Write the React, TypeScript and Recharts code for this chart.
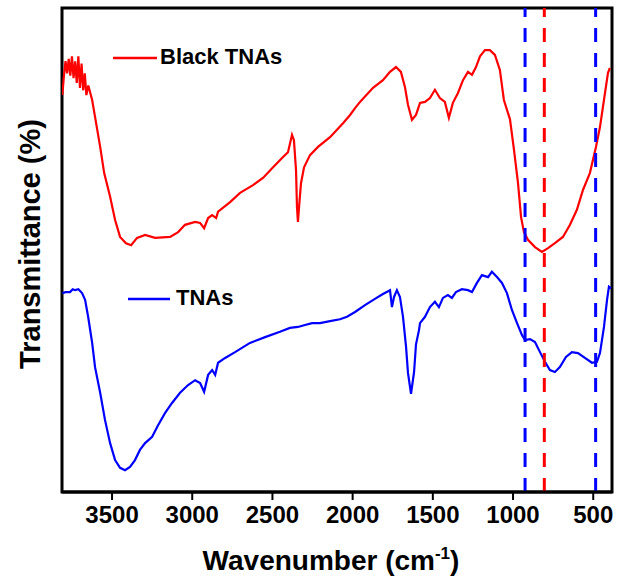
import { LineChart, Line, XAxis, YAxis, ReferenceLine, ReferenceArea } from "recharts";

const FONT = "'Liberation Sans', Arial, sans-serif";

// Black TNAs spectrum (wavenumber, transmittance in arbitrary units)
const blackWn = [
  3810, 3800, 3790, 3780, 3770, 3760, 3750, 3740, 3730, 3720, 3710, 3700, 3690, 3680, 3670, 3660,
  3648, 3624, 3606, 3574, 3549, 3512, 3481, 3450, 3413, 3381, 3344, 3294, 3232, 3138, 3088, 3045,
  2982, 2951, 2926, 2901, 2876, 2851, 2839, 2764, 2702, 2621, 2559, 2496, 2434, 2403, 2378, 2366,
  2353, 2347, 2341, 2334, 2322, 2303, 2266, 2216, 2141, 2060, 2016, 1985, 1954, 1873, 1811, 1767,
  1730, 1699, 1674, 1655, 1630, 1605, 1580, 1549, 1518, 1487, 1456, 1425, 1400, 1375, 1344, 1312,
  1281, 1256, 1231, 1206, 1175, 1144, 1113, 1082, 1057, 1019, 994, 969, 950, 932, 907, 863, 820,
  782, 739, 689, 645, 602, 564, 521, 483, 458, 433, 408, 396,
];
const blackT = [
  82, 86, 89, 86.5, 89.5, 86, 90, 85.5, 89, 84.5, 90, 83.5, 88.5, 83, 86.5, 82,
  84, 81, 77.5, 71.3, 65.9, 61, 56.2, 52.7, 51.4, 51, 52.5, 53.1, 52.5, 52.7, 53.7, 55.2,
  55.8, 55.6, 54.5, 56.6, 57.2, 56.6, 57.9, 59.9, 61.8, 63.4, 64.9, 67.1, 69.2, 70.2, 73.8, 72.7,
  66.5, 58.9, 55.8, 58.9, 63.8, 67.1, 69.6, 71.3, 73.3, 76.2, 77.9, 79.3, 80.6, 83.5, 85.1, 86.8,
  87.8, 86.8, 83.7, 80, 76.9, 77.9, 80.4, 80.6, 81.4, 83.1, 81.4, 80.6, 77.3, 80.4, 82.4, 85.1,
  86.8, 86.2, 87.8, 90, 91.3, 91.3, 90.3, 87.2, 81, 77, 70.7, 63.8, 56.8, 53.7, 52.1, 50.6, 49.6,
  50.4, 51.4, 52.7, 55.2, 58.3, 62.4, 65.9, 71.3, 75.4, 81, 86.6, 87.6,
];

// TNAs spectrum
const tnasWn = [
  3810, 3790, 3762, 3745, 3730, 3710, 3687, 3668, 3649, 3624, 3606, 3574, 3544, 3512, 3481, 3450,
  3419, 3388, 3357, 3326, 3294, 3250, 3213, 3170, 3126, 3076, 3026, 2982, 2951, 2926, 2901, 2876,
  2857, 2839, 2795, 2733, 2640, 2546, 2453, 2391, 2341, 2297, 2253, 2204, 2141, 2079, 2035, 1985,
  1923, 1861, 1811, 1767, 1755, 1742, 1724, 1705, 1686, 1667, 1655, 1636, 1617, 1605, 1586, 1580,
  1549, 1518, 1487, 1462, 1437, 1406, 1381, 1356, 1319, 1281, 1256, 1225, 1194, 1156, 1132, 1100,
  1069, 1038, 1007, 975, 944, 925, 894, 863, 832, 801, 770, 739, 708, 670, 633, 595, 552, 508,
  477, 458, 433, 414, 402, 389,
];
const tnasT = [
  41.1, 41.3, 41.3, 41.9, 41.7, 41.9, 41.1, 39.7, 36.2, 30.8, 25.8, 20.5, 14.9, 10.1, 6.6, 5.0,
  4.5, 5.2, 6.6, 8.7, 10.1, 11.4, 13.8, 16.3, 18.4, 20.5, 22.1, 23.1, 22.5, 20.7, 24.2, 25.2,
  24.2, 26.7, 27.7, 28.9, 30.8, 32.0, 33.1, 33.9, 34.1, 34.5, 34.9, 34.9, 35.3, 35.7, 36.2, 37.2,
  38.6, 39.9, 40.9, 41.7, 38.2, 40.3, 41.7, 40.3, 36.2, 30.0, 24.6, 20.3, 24.8, 30.5, 33.5, 34.9,
  36.2, 38.2, 39.3, 38.2, 40.1, 40.7, 40.1, 41.3, 41.9, 41.7, 41.3, 43.2, 44.8, 44.4, 45.5, 44.4,
  43.2, 41.1, 37.6, 34.9, 32.4, 31.4, 31.6, 31.0, 28.9, 26.9, 25.2, 24.8, 25.8, 27.9, 28.9, 28.7,
  27.7, 26.7, 26.9, 28.7, 34.1, 39.7, 42.4, 42.1,
];

const xTicks = [3500, 3000, 2500, 2000, 1500, 1000, 500];
const xDomain = [383, 3812];
const blueMarks = [925, 485];
const redMarks = [805];

const blackData = blackWn.map((w, i) => ({ w, t: blackT[i] }));
const tnasData = tnasWn.map((w, i) => ({ w, t: tnasT[i] }));

function XLabel(props: any) {
  const { x, y, width } = props.viewBox;
  return (
    <text x={x + width / 2 - 6} y={y + 78} textAnchor="middle" fontFamily={FONT} fontWeight={700} fontSize={28} fill="#000">
      Wavenumber (cm
      <tspan dy={-11} fontSize={17}>-1</tspan>
      <tspan dy={11}>)</tspan>
    </text>
  );
}

function YLabel() {
  return (
    <text x={40} y={244} transform="rotate(-90, 40, 244)" textAnchor="middle" fontFamily={FONT} fontWeight={700} fontSize={29} fill="#000">
      Transmittance (%)
    </text>
  );
}

export default function App() {
  return (
    <div style={{ position: "absolute", left: 0, top: 0, width: 617, height: 579, background: "#fff" }}>
      <LineChart width={617} height={579} margin={{ top: 8, right: 5, left: 0, bottom: 0 }}>
        <XAxis
          type="number"
          dataKey="w"
          domain={xDomain}
          reversed
          allowDataOverflow
          ticks={xTicks}
          interval={0}
          height={87}
          tickSize={8}
          tickMargin={6}
          axisLine={{ stroke: "#000", strokeWidth: 3 }}
          tickLine={{ stroke: "#000", strokeWidth: 2 }}
          tick={{ fill: "#000", fontSize: 24, fontWeight: 700, fontFamily: FONT }}
          label={(p: any) => <XLabel {...p} />}
        />
        <YAxis type="number" domain={[0, 100]} width={62} tick={false} tickLine={false} axisLine={false} label={() => <YLabel />} />
        <ReferenceArea x1={xDomain[0]} x2={xDomain[1]} y1={0} y2={100} fill="#fff" fillOpacity={0} stroke="#000" strokeWidth={3} ifOverflow="visible" />
        <Line data={tnasData} dataKey="t" name="TNAs" type="linear" stroke="#0000FF" strokeWidth={2.2} dot={false} isAnimationActive={false} />
        <Line data={blackData} dataKey="t" name="Black TNAs" type="linear" stroke="#FF0000" strokeWidth={2.2} dot={false} isAnimationActive={false} />
        {blueMarks.map((x) => (
          <ReferenceLine key={`b${x}`} x={x} stroke="#0000FF" strokeWidth={3} strokeDasharray="14 11" />
        ))}
        {redMarks.map((x) => (
          <ReferenceLine key={`r${x}`} x={x} stroke="#FF0000" strokeWidth={3} strokeDasharray="14 11" />
        ))}
      </LineChart>
      {/* legend entries sit inside the plot, next to each curve */}
      <svg width={617} height={579} style={{ position: "absolute", left: 0, top: 0, pointerEvents: "none" }}>
        <line x1={113} x2={157} y1={58} y2={58} stroke="#FF0000" strokeWidth={2.5} />
        <text x={160} y={64} fontFamily={FONT} fontWeight={700} fontSize={22} fill="#000">Black TNAs</text>
        <line x1={128} x2={170} y1={299} y2={299} stroke="#0000FF" strokeWidth={2.5} />
        <text x={176} y={305} fontFamily={FONT} fontWeight={700} fontSize={22} fill="#000">TNAs</text>
      </svg>
    </div>
  );
}
